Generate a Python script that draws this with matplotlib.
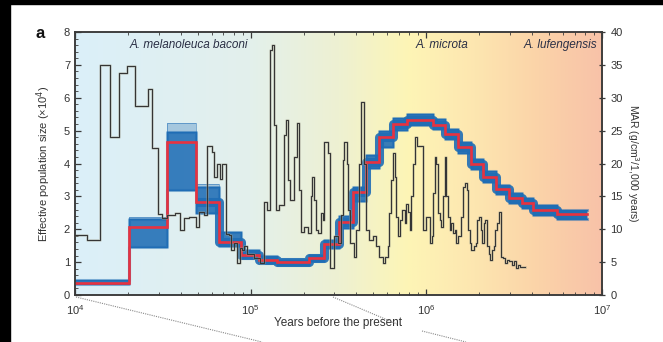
import numpy as np
import matplotlib
matplotlib.use("Agg")
import matplotlib.pyplot as plt
from matplotlib.colors import LinearSegmentedColormap
from matplotlib.lines import Line2D
from matplotlib.patches import Rectangle
from matplotlib.ticker import MultipleLocator, LogLocator, NullFormatter

plt.rcParams['font.family'] = ['Liberation Sans', 'DejaVu Sans']

# PSMC estimate (step function): segment edges in years, Ne in units of 10^4
psmc_edges = [1.0e4, 2.04e4, 3.34e4, 4.9e4, 6.6e4, 8.77e4, 1.11e5, 1.42e5, 2.15e5,
              2.62e5, 3.2e5, 3.81e5, 4.54e5, 5.41e5, 6.5e5, 7.76e5, 1.09e6, 1.27e6,
              1.52e6, 1.79e6, 2.11e6, 2.48e6, 2.95e6, 3.49e6, 4.07e6, 5.53e6, 8.2e6]
psmc_ne = [0.36, 2.08, 4.65, 2.84, 1.61, 1.22, 1.06, 0.99, 1.12, 1.55, 2.23, 3.14, 4.06,
           4.80, 5.19, 5.32, 5.17, 4.89, 4.49, 3.98, 3.60, 3.21, 2.94, 2.79, 2.59, 2.46]

# bootstrap spread per segment
boot_lo = [0.32, 1.47, 3.20, 2.48, 1.49, 1.12, 0.96, 0.92, 1.02, 1.42, 2.05, 2.85, 3.85,
           4.50, 5.02, 5.18, 5.05, 4.75, 4.33, 3.82, 3.45, 3.06, 2.80, 2.64, 2.44, 2.30]
boot_hi = [0.45, 2.30, 4.95, 3.30, 1.93, 1.37, 1.18, 1.08, 1.22, 1.68, 2.40, 3.30, 4.25,
           4.98, 5.38, 5.52, 5.35, 5.05, 4.65, 4.15, 3.76, 3.36, 3.10, 2.94, 2.74, 2.58]
boot_max = [0.45, 2.38, 5.24, 3.38, 1.93, 1.37, 1.18, 1.08, 1.22, 1.68, 2.40, 3.30, 4.25,
            4.98, 5.38, 5.52, 5.35, 5.05, 4.65, 4.15, 3.76, 3.36, 3.10, 2.94, 2.74, 2.58]

# mass accumulation rate record (log10 years, g/cm^3/1,000 years)
mar_log_years = [4.000, 4.067, 4.143, 4.200, 4.253, 4.295, 4.343, 4.413, 4.438, 4.470,
                 4.495, 4.524, 4.571, 4.600, 4.619, 4.648, 4.691, 4.705, 4.733, 4.752,
                 4.781, 4.794, 4.810, 4.823, 4.838, 4.857, 4.876, 4.889, 4.905, 4.924,
                 4.937, 4.952, 4.962, 4.981, 5.019, 5.053, 5.076, 5.091, 5.110, 5.122,
                 5.133, 5.143, 5.162, 5.187, 5.200, 5.210, 5.223, 5.248, 5.263, 5.276,
                 5.286, 5.305, 5.324, 5.343, 5.352, 5.362, 5.371, 5.385, 5.400, 5.410,
                 5.419, 5.442, 5.453, 5.476, 5.495, 5.514, 5.524, 5.533, 5.549, 5.556,
                 5.567, 5.587, 5.600, 5.619, 5.629, 5.644, 5.657, 5.676, 5.695, 5.714,
                 5.733, 5.752, 5.766, 5.781, 5.790, 5.800, 5.810, 5.819, 5.829, 5.838,
                 5.848, 5.863, 5.876, 5.886, 5.895, 5.905, 5.914, 5.924, 5.933, 5.949,
                 5.981, 6.000, 6.019, 6.032, 6.040, 6.048, 6.057, 6.067, 6.076, 6.086,
                 6.095, 6.105, 6.114, 6.124, 6.133, 6.143, 6.152, 6.162, 6.171, 6.181,
                 6.200, 6.210, 6.219, 6.229, 6.238, 6.248, 6.257, 6.270, 6.282, 6.290,
                 6.301, 6.309, 6.318, 6.326, 6.335, 6.345, 6.354, 6.364, 6.373, 6.383,
                 6.392, 6.402, 6.413, 6.425, 6.438, 6.448, 6.457, 6.470, 6.486, 6.497,
                 6.509, 6.520, 6.533, 6.546, 6.562]
mar_values = [9.1, 8.4, 35.0, 24.1, 33.7, 34.8, 28.7, 31.3, 22.3, 12.3,
              11.7, 12.2, 12.4, 9.9, 11.7, 11.9, 10.4, 12.7, 12.2, 22.6,
              21.8, 18.0, 20.0, 17.7, 20.0, 9.3, 9.1, 6.8, 7.9, 4.8,
              7.1, 6.8, 7.4, 6.3, 5.6, 4.8, 14.2, 12.9, 37.3, 38.0,
              25.9, 12.9, 13.7, 24.3, 26.6, 17.5, 14.5, 21.0, 26.1, 16.0,
              9.6, 10.4, 9.4, 15.0, 18.0, 14.5, 9.9, 9.4, 12.4, 11.4,
              23.3, 21.6, 4.1, 8.9, 7.9, 12.2, 20.5, 23.3, 20.0, 12.9,
              7.9, 5.8, 9.9, 20.0, 29.4, 20.0, 9.9, 8.4, 8.9, 7.4,
              5.8, 4.8, 5.8, 7.4, 12.4, 17.5, 21.6, 18.0, 11.9, 8.9,
              11.4, 12.9, 10.9, 13.9, 12.7, 9.9, 15.0, 20.0, 24.1, 22.6,
              9.9, 11.9, 7.9, 8.9, 15.5, 21.0, 20.0, 12.4, 11.4, 10.4,
              15.0, 21.0, 15.0, 11.9, 9.9, 10.9, 9.4, 9.9, 7.9, 8.9,
              11.9, 16.5, 17.0, 16.0, 9.9, 7.9, 6.8, 7.4, 7.9, 11.4,
              11.9, 9.9, 7.9, 10.9, 11.4, 7.4, 6.3, 5.3, 6.8, 7.4,
              9.9, 10.9, 12.7, 5.8, 5.6, 4.8, 5.3, 5.1, 4.6, 5.1,
              4.1, 4.6, 4.3, 4.2, 4.2]

species = ["A. melanoleuca baconi", "A. microta", "A. lufengensis"]
species_x = [0.216, 0.697, 0.99]
species_ha = ["center", "center", "right"]

# background colour ramp across the time axis
bg_stops = [0.0, 0.33, 0.5, 0.63, 0.76, 0.88, 1.0]
bg_colors = ["#dbeff9", "#e3f0ec", "#eef1d2", "#fdf5b6", "#fde6b0", "#fbd3a8", "#f8c2a8"]

fig = plt.figure(figsize=(6.63, 3.42), dpi=100)
ax = fig.add_axes([0.1131, 0.1374, 0.7949, 0.769])
ax2 = ax.twinx()

cmap = LinearSegmentedColormap.from_list("bg", list(zip(bg_stops, bg_colors)))
ax.imshow(np.linspace(0, 1, 256)[None, :], cmap=cmap, aspect="auto",
          extent=[0, 1, 0, 1], transform=ax.transAxes, zorder=0)

edges = np.array(psmc_edges)
lo = boot_lo + [boot_lo[-1]]
hi = boot_hi + [boot_hi[-1]]
top = boot_max + [boot_max[-1]]
med = psmc_ne + [psmc_ne[-1]]
blue = "#1f6db5"

# bootstrap envelope
ax.fill_between(edges, hi, top, step="post", color=blue, alpha=0.3, lw=0, zorder=2)
ax.step(edges, top, where="post", color=blue, lw=0.6, alpha=0.6, zorder=2)
ax.fill_between(edges, lo, hi, step="post", color=blue, alpha=0.88, lw=0, zorder=2)
for band in (lo, hi):
    ax.step(edges, band, where="post", color=blue, lw=2.2, alpha=0.45, zorder=2)
    ax.step(edges, band, where="post", color=blue, lw=0.9, zorder=2)
# halo along the median where the bootstrap runs sit tight around it
ax.step(edges[3:], med[3:], where="post", color=blue, lw=6.5, alpha=0.9, zorder=3,
        solid_joinstyle="round", solid_capstyle="butt")
ax.step(edges, med, where="post", color="#e8323f", lw=1.9, zorder=4,
        solid_joinstyle="miter")

mar_years = np.power(10.0, mar_log_years)
ax2.step(mar_years, mar_values, where="post", color="#9a9a88", lw=1.8, alpha=0.5)
ax2.step(mar_years, mar_values, where="post", color="#353535", lw=0.75)

ax.set_xscale("log")
ax.set_xlim(1e4, 1e7)
ax.set_ylim(0, 8)
ax2.set_ylim(0, 40)

spine_col = "#3a3a3a"
text_col = "#333333"
for a in (ax, ax2):
    for s in a.spines.values():
        s.set_color(spine_col)
        s.set_linewidth(1.1)

ax.yaxis.set_major_locator(MultipleLocator(1))
ax.yaxis.set_minor_locator(MultipleLocator(0.2))
ax.xaxis.set_major_locator(LogLocator(base=10))
ax.xaxis.set_minor_locator(LogLocator(base=10, subs=np.arange(2, 10)))
ax.xaxis.set_minor_formatter(NullFormatter())
ax.tick_params(axis="both", which="major", direction="in", length=4, width=0.9,
               color=spine_col, labelsize=8, labelcolor=text_col, top=True, right=False)
ax.tick_params(axis="both", which="minor", direction="in", length=2, width=0.6,
               color=spine_col, top=True, right=False)
ax.tick_params(axis="x", which="major", pad=6)
ax2.yaxis.set_major_locator(MultipleLocator(5))
ax2.tick_params(axis="y", which="major", direction="inout", length=5, width=0.9,
                color=spine_col, labelsize=8, labelcolor=text_col)

ax.set_xlabel("Years before the present", fontsize=8.5, color=text_col, labelpad=0)
ax.set_ylabel("Effective population size (\u00d710$^4$)", fontsize=8,
              color=text_col, labelpad=8)
ax2.set_ylabel("MAR (g/cm$^3$/1,000 years)", fontsize=7.5, color=text_col,
               rotation=-90, labelpad=13)

for name, xs, ha in zip(species, species_x, species_ha):
    ax.text(xs, 0.952, name, transform=ax.transAxes, ha=ha, va="center",
            fontsize=8.5, style="italic", color="#2a2f45", zorder=5)

fig.text(35 / 663, 1 - 33 / 342, "a", fontsize=12, fontweight="bold",
         ha="left", va="center", color="#111111")

# dotted connectors down to the panel below
dot = dict(color="#8a8a8a", lw=0.8, linestyle=(0, (1, 1)), transform=fig.transFigure)
fig.lines.append(Line2D([76 / 663, 262 / 663], [1 - 297 / 342, 0], **dot))
fig.lines.append(Line2D([333 / 663, 397 / 663], [1 - 297 / 342, 1 - 324 / 342], **dot))
fig.lines.append(Line2D([422 / 663, 466 / 663], [1 - 331 / 342, 0], **dot))

# dark frame strips
fig.patches.append(Rectangle((0, 0), 10 / 663, 1, transform=fig.transFigure,
                             color="black", zorder=10))
fig.patches.append(Rectangle((0, 1 - 4 / 342), 1, 4 / 342, transform=fig.transFigure,
                             color="black", zorder=10))

fig.savefig("out.png", dpi=100)
